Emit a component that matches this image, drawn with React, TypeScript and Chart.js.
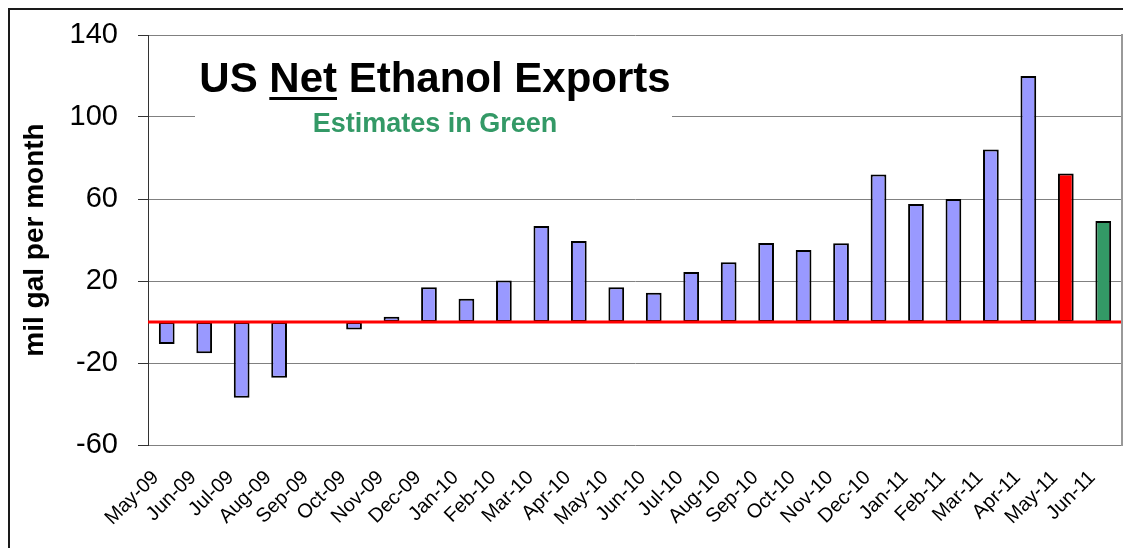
import React, { useEffect, useRef } from "react";
import { Chart, registerables } from "chart.js";

Chart.register(...registerables);

const months = [
  "May-09", "Jun-09", "Jul-09", "Aug-09", "Sep-09", "Oct-09", "Nov-09", "Dec-09",
  "Jan-10", "Feb-10", "Mar-10", "Apr-10", "May-10", "Jun-10", "Jul-10", "Aug-10",
  "Sep-10", "Oct-10", "Nov-10", "Dec-10", "Jan-11", "Feb-11", "Mar-11", "Apr-11",
  "May-11", "Jun-11",
];

const netExports: (number | null)[] = [
  -10.7, -15.3, -36.9, -27.2, null, -3.6, 2.6, 16.9,
  11.4, 20.2, 46.8, 39.5, 16.9, 14.3, 24.4, 29.1,
  38.5, 35.1, 38.4, 71.9, 57.6, 60.0, 84.2, 120.0,
  72.5, 49.3,
];

const barStatus = [
  "actual", "actual", "actual", "actual", "actual", "actual", "actual", "actual",
  "actual", "actual", "actual", "actual", "actual", "actual", "actual", "actual",
  "actual", "actual", "actual", "actual", "actual", "actual", "actual", "actual",
  "latest", "estimate",
];

const yMin = -60;
const yMax = 140;
const yStep = 40;

const titlePre = "US ";
const titleUnderlined = "Net";
const titlePost = " Ethanol Exports";
const subtitle = "Estimates in Green";
const yAxisTitle = "mil gal per month";

const FONT = "'Liberation Sans', Arial, Helvetica, sans-serif";

const statusColor: Record<string, string> = {
  actual: "#9999ff",
  latest: "#ff0000",
  estimate: "#339966",
};

const decorPlugin = {
  id: "decor",
  beforeDatasetsDraw(chart: any) {
    const { ctx, chartArea } = chart;
    const L = chartArea.left;
    const T = chartArea.top;
    ctx.save();
    ctx.fillStyle = "#ffffff";
    ctx.fillRect(L + 47, T + 15, 477, 95);
    const cx = L + 287;
    ctx.font = `bold 42px ${FONT}`;
    ctx.fillStyle = "#000000";
    ctx.textBaseline = "alphabetic";
    ctx.textAlign = "left";
    const w1 = ctx.measureText(titlePre).width;
    const w2 = ctx.measureText(titleUnderlined).width;
    const w3 = ctx.measureText(titlePost).width;
    const start = cx - (w1 + w2 + w3) / 2;
    const base = T + 57;
    ctx.fillText(titlePre, start, base);
    ctx.fillText(titleUnderlined, start + w1, base);
    ctx.fillText(titlePost, start + w1 + w2, base);
    ctx.fillRect(start + w1, base + 5, w2, 3);
    ctx.font = `bold 27px ${FONT}`;
    ctx.fillStyle = "#339966";
    ctx.textAlign = "center";
    ctx.fillText(subtitle, cx, T + 97);
    ctx.restore();
  },
  afterDatasetsDraw(chart: any) {
    const { ctx, chartArea, scales } = chart;
    const y0 = scales.y.getPixelForValue(0);
    ctx.save();
    ctx.strokeStyle = "#ff0000";
    ctx.lineWidth = 3;
    ctx.beginPath();
    ctx.moveTo(chartArea.left, y0);
    ctx.lineTo(chartArea.right, y0);
    ctx.stroke();
    ctx.strokeStyle = "#999999";
    ctx.lineWidth = 2;
    ctx.beginPath();
    ctx.moveTo(chartArea.right, chartArea.top - 1);
    ctx.lineTo(chartArea.right, chartArea.bottom + 1);
    ctx.stroke();
    ctx.restore();
  },
};

export default function App() {
  const canvasRef = useRef<HTMLCanvasElement | null>(null);

  useEffect(() => {
    document.body.style.overflow = "hidden";
    const canvas = canvasRef.current;
    if (!canvas) return;
    const chart = new Chart(canvas, {
      type: "bar",
      data: {
        labels: months,
        datasets: [
          {
            data: netExports,
            backgroundColor: barStatus.map((s) => statusColor[s]),
            borderColor: "#000000",
            borderWidth: 2,
            borderSkipped: false,
            barPercentage: 0.42,
            categoryPercentage: 1,
          },
        ],
      },
      options: {
        responsive: false,
        animation: false,
        layout: { padding: { left: 0, top: 25, right: 9, bottom: 0 } },
        plugins: {
          legend: { display: false },
          tooltip: { enabled: false },
          title: { display: false },
        },
        scales: {
          x: {
            grid: { display: false, drawTicks: false },
            border: { display: false },
            ticks: {
              autoSkip: false,
              maxRotation: 45,
              minRotation: 45,
              padding: 21,
              labelOffset: -11,
              color: "#000000",
              font: { family: FONT, size: 20 },
            },
            afterFit(scale: any) {
              scale.height = 103;
              scale.paddingLeft = 0;
              scale.paddingRight = 0;
              scale.paddingTop = 0;
              scale.paddingBottom = 0;
            },
          },
          y: {
            min: yMin,
            max: yMax,
            ticks: {
              stepSize: yStep,
              padding: 20,
              color: "#000000",
              font: { family: FONT, size: 29 },
            },
            grid: {
              color: "#808080",
              tickColor: "#333333",
              tickLength: 10,
              lineWidth: 1,
            },
            border: { display: true, color: "#333333", width: 1 },
            title: {
              display: true,
              text: yAxisTitle,
              color: "#000000",
              font: { family: FONT, size: 28, weight: "bold" },
              padding: { top: 8, bottom: 0 },
            },
            afterFit(scale: any) {
              scale.width = 138;
              scale.paddingLeft = 0;
              scale.paddingRight = 0;
              scale.paddingTop = 0;
              scale.paddingBottom = 0;
            },
          },
        },
      },
      plugins: [decorPlugin],
    });
    return () => chart.destroy();
  }, []);

  return (
    <div
      style={{
        position: "relative",
        width: 1121,
        height: 538,
        borderLeft: "2px solid #1a1a1a",
        borderTop: "2px solid #1a1a1a",
        background: "#ffffff",
      }}
    >
      <canvas ref={canvasRef} width={1121} height={538} style={{ display: "block" }} />
    </div>
  );
}
